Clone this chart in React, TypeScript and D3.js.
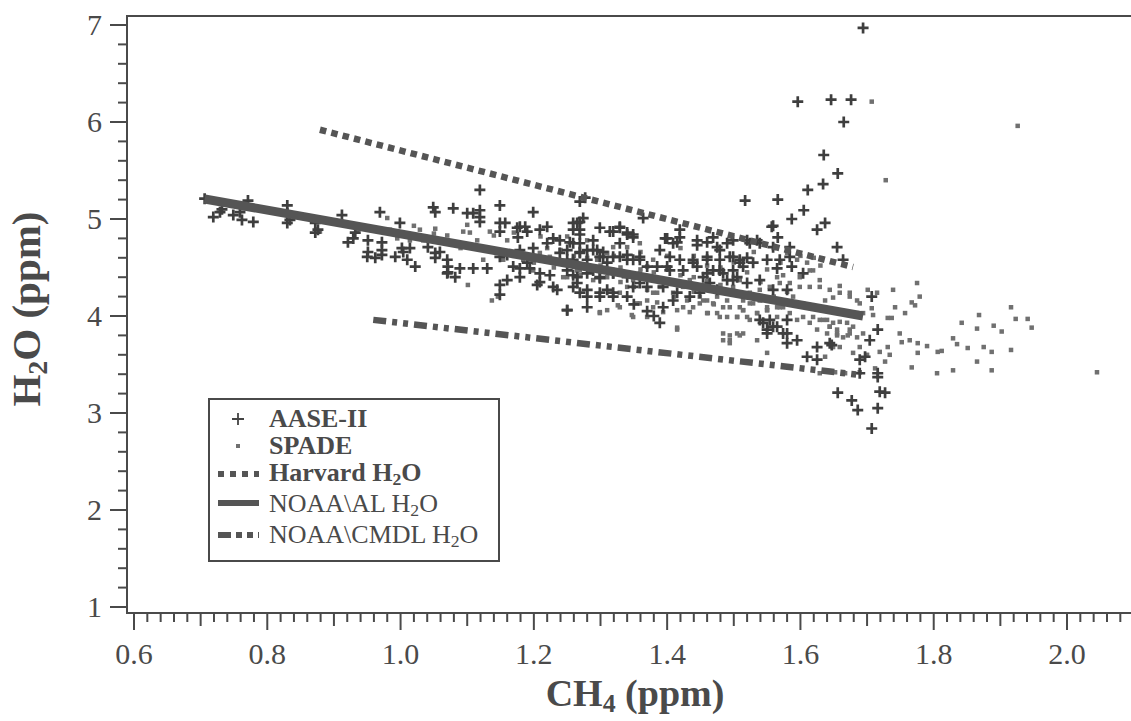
import React from "react";
import * as d3 from "d3";

// major tick values
const xTickValues = [0.6, 0.8, 1.0, 1.2, 1.4, 1.6, 1.8, 2.0];
const yTickValues = [1, 2, 3, 4, 5, 6, 7];

// AASE-II crosses, [CH4, H2O]
const aasePoints: [number, number][] = [
  [0.706, 5.21], [0.719, 5.02], [0.729, 5.07], [0.732, 5.1], [0.749, 5.04], [0.759, 5.07], [0.762, 4.99],
  [0.779, 4.97], [0.771, 5.19], [0.83, 5.14], [0.83, 5.06], [0.83, 4.96], [0.834, 4.99], [0.872, 4.96],
  [0.872, 4.86], [0.876, 4.89], [0.912, 5.04], [0.921, 4.76], [0.929, 4.8], [0.932, 4.86], [0.951, 4.78],
  [0.951, 4.66], [0.95, 4.61], [0.962, 4.6], [0.969, 5.07], [0.972, 4.76], [0.972, 4.68], [0.972, 4.63],
  [0.992, 4.61], [0.999, 4.96], [1.002, 4.7], [1.004, 4.66], [1.01, 4.58], [1.014, 4.7], [1.022, 4.51],
  [1.041, 4.71], [1.049, 5.12], [1.052, 5.07], [1.052, 4.65], [1.052, 4.6], [1.059, 4.66], [1.07, 4.58],
  [1.07, 4.44], [1.071, 4.51],
  [1.119, 5.3], [1.079, 5.11], [1.1, 5.06], [1.109, 5.06], [1.119, 5.09], [1.119, 5.02], [1.119, 4.97],
  [1.149, 5.14], [1.199, 5.07], [1.149, 4.96], [1.157, 4.96], [1.149, 4.87], [1.175, 4.91], [1.179, 4.92],
  [1.187, 4.92], [1.19, 4.87], [1.176, 4.81], [1.209, 4.89], [1.22, 4.92], [1.229, 4.8], [1.239, 4.78],
  [1.254, 4.76], [1.265, 4.96], [1.274, 5.01], [1.259, 4.89], [1.269, 4.84], [1.289, 4.78], [1.299, 4.91],
  [1.319, 4.87], [1.329, 4.91], [1.34, 4.84], [1.349, 4.81], [1.329, 4.75], [1.269, 5.18], [1.277, 5.22],
  [1.364, 5.01], [1.071, 4.45], [1.082, 4.4], [1.089, 4.49], [1.109, 4.49], [1.13, 4.49], [1.149, 4.61],
  [1.16, 4.63], [1.169, 4.51], [1.179, 4.49], [1.179, 4.4], [1.19, 4.55], [1.194, 4.49], [1.205, 4.32],
  [1.209, 4.44], [1.209, 4.35], [1.224, 4.42], [1.229, 4.3], [1.235, 4.27], [1.25, 4.06], [1.149, 4.32],
  [1.16, 4.37], [1.149, 4.22], [1.259, 4.42], [1.265, 4.34], [1.269, 4.24], [1.28, 4.2], [1.28, 4.09],
  [1.299, 4.24], [1.31, 4.27], [1.319, 4.2], [1.239, 4.65], [1.25, 4.58], [1.259, 4.58], [1.269, 4.65],
  [1.28, 4.68], [1.295, 4.68], [1.304, 4.61], [1.31, 4.55], [1.329, 4.61], [1.34, 4.58], [1.349, 4.58],
  [1.359, 4.58], [1.179, 4.68], [1.199, 4.7], [1.22, 4.75], [1.299, 4.39], [1.289, 4.47], [1.319, 4.44],
  [1.34, 4.4], [1.349, 4.3], [1.359, 4.34], [1.37, 4.3], [1.34, 4.2], [1.37, 4.05], [1.35, 4.12], [1.38, 4.0],
  [1.517, 5.19], [1.566, 5.2], [1.611, 5.3], [1.634, 5.36], [1.656, 5.47], [1.605, 5.09], [1.587, 5.0],
  [1.559, 4.93], [1.566, 4.81], [1.625, 4.89], [1.637, 4.96], [1.419, 4.89], [1.397, 4.8], [1.409, 4.75],
  [1.445, 4.78], [1.469, 4.81], [1.475, 4.71], [1.479, 4.68], [1.499, 4.78], [1.524, 4.75], [1.535, 4.78],
  [1.389, 4.68], [1.404, 4.61], [1.419, 4.58], [1.439, 4.58], [1.46, 4.61], [1.479, 4.58], [1.494, 4.61],
  [1.509, 4.58], [1.52, 4.6], [1.55, 4.58], [1.565, 4.49], [1.584, 4.71], [1.587, 4.51], [1.604, 4.44],
  [1.385, 4.51], [1.404, 4.47], [1.424, 4.47], [1.445, 4.51], [1.454, 4.4], [1.469, 4.47], [1.484, 4.44],
  [1.499, 4.47], [1.514, 4.51], [1.464, 4.34], [1.475, 4.27], [1.49, 4.37], [1.505, 4.4], [1.52, 4.34],
  [1.394, 4.3], [1.415, 4.24], [1.434, 4.2], [1.449, 4.24], [1.394, 4.09], [1.389, 3.93], [1.409, 4.16],
  [1.544, 3.93], [1.554, 3.96], [1.55, 3.86], [1.565, 3.89], [1.574, 3.82], [1.58, 3.96], [1.58, 3.72],
  [1.595, 3.75], [1.625, 3.68], [1.644, 3.72], [1.61, 3.58], [1.625, 3.55], [1.707, 4.2], [1.704, 3.75],
  [1.689, 3.55], [1.664, 4.58], [1.655, 4.71],
  [1.694, 6.97], [1.596, 6.21], [1.646, 6.23], [1.676, 6.23], [1.665, 6.0], [1.635, 5.66],
  [1.716, 3.86], [1.647, 3.7], [1.716, 3.41], [1.716, 3.37], [1.719, 3.22], [1.727, 3.21], [1.656, 3.21],
  [1.677, 3.13], [1.686, 3.03], [1.716, 3.05], [1.707, 2.84], [1.689, 3.41], [1.697, 3.58],
  [1.259, 4.96], [1.269, 4.97], [1.269, 4.89], [1.314, 4.87], [1.329, 4.92], [1.34, 4.86], [1.349, 4.84],
  [1.259, 4.75], [1.269, 4.75], [1.25, 4.68], [1.269, 4.66], [1.289, 4.68], [1.304, 4.66], [1.4, 4.8],
  [1.415, 4.76], [1.419, 4.81], [1.445, 4.73], [1.46, 4.76], [1.49, 4.75], [1.52, 4.78], [1.499, 4.61],
  [1.509, 4.55], [1.539, 4.75], [1.559, 4.71], [1.569, 4.58], [1.584, 4.61], [1.557, 4.92], [1.529, 4.55],
  [1.46, 4.58], [1.439, 4.55], [1.4, 4.51], [1.37, 4.51], [1.359, 4.61], [1.34, 4.63], [1.319, 4.61],
  [1.299, 4.61], [1.28, 4.58], [1.259, 4.55], [1.25, 4.47], [1.265, 4.4], [1.28, 4.44], [1.299, 4.4],
  [1.319, 4.44], [1.259, 4.3], [1.28, 4.27], [1.299, 4.2], [1.319, 4.24], [1.25, 4.06], [1.46, 4.44],
  [1.479, 4.47], [1.499, 4.37], [1.539, 4.37], [1.559, 4.27], [1.58, 4.27], [1.539, 3.96], [1.559, 3.89],
  [1.58, 3.82], [1.55, 3.82],
];

// SPADE dots, [CH4, H2O]
const spadePoints: [number, number][] = [
  [1.707, 6.21], [1.926, 5.96], [1.728, 5.4], [2.045, 3.42],
  [1.659, 4.31], [1.674, 4.24], [1.701, 4.27], [1.715, 4.24], [1.739, 4.27], [1.775, 4.34], [1.779, 4.2],
  [1.767, 4.14], [1.772, 4.11], [1.742, 4.09], [1.757, 4.03], [1.709, 4.01], [1.731, 3.98], [1.737, 3.98],
  [1.842, 3.93], [1.868, 4.01], [1.916, 4.09], [1.923, 3.97], [1.941, 3.97], [1.947, 3.88], [1.89, 3.9],
  [1.902, 3.84], [1.865, 3.87], [1.829, 3.77], [1.835, 3.71], [1.851, 3.67], [1.875, 3.68], [1.887, 3.63],
  [1.916, 3.65], [1.865, 3.53], [1.829, 3.44], [1.805, 3.41], [1.887, 3.44], [1.767, 3.47], [1.806, 3.63],
  [1.812, 3.64], [1.79, 3.69], [1.776, 3.72], [1.776, 3.62], [1.764, 3.75], [1.752, 3.73], [1.749, 3.82],
  [1.731, 3.68], [1.734, 3.6], [1.719, 3.63], [1.7, 3.6], [1.689, 3.68], [1.679, 3.62], [1.659, 3.68],
  [1.649, 3.68], [1.64, 3.82], [1.655, 3.8], [1.671, 3.8], [1.694, 3.82], [1.679, 3.89], [1.649, 3.93],
  [1.64, 3.96], [1.659, 3.94], [1.637, 4.16], [1.649, 4.19], [1.689, 4.13], [1.707, 4.08], [1.685, 4.03],
  [1.637, 3.58], [1.629, 3.41], [1.652, 3.42], [1.667, 3.41], [1.689, 3.42], [1.727, 3.53], [1.712, 3.46],
  [1.385, 4.14], [1.394, 4.04], [1.415, 3.86], [1.434, 4.04], [1.449, 4.13], [1.461, 4.03], [1.479, 3.99],
  [1.494, 4.09], [1.505, 3.99], [1.514, 4.06], [1.524, 4.13], [1.535, 4.03], [1.55, 4.09], [1.565, 4.09],
  [1.574, 4.16], [1.589, 4.2], [1.604, 4.13], [1.619, 3.99], [1.629, 3.96], [1.644, 3.89], [1.655, 3.86],
  [1.67, 3.93], [1.674, 3.82], [1.685, 3.78], [1.694, 4.03], [1.505, 3.82], [1.494, 3.72], [1.484, 3.75],
  [1.55, 3.62], [1.524, 4.24], [1.539, 4.27], [1.554, 4.3], [1.569, 4.34], [1.584, 4.34], [1.599, 4.3],
  [1.614, 4.3], [1.629, 4.3], [1.644, 4.27], [1.659, 4.24], [1.674, 4.2], [1.685, 4.16], [1.599, 4.4],
  [1.614, 4.47], [1.629, 4.37], [1.619, 4.47], [1.565, 4.4], [1.574, 4.42], [1.595, 4.58], [1.61, 4.55],
  [1.475, 4.2], [1.49, 4.24], [1.424, 4.09], [1.46, 4.16], [1.514, 4.16], [1.539, 4.16], [1.424, 4.3],
  [1.434, 4.37], [1.499, 4.3], [1.509, 4.37], [1.379, 4.24], [1.385, 4.37],
  [1.101, 4.32], [1.137, 4.16], [1.146, 4.2], [1.1, 4.94], [1.104, 4.86], [1.094, 4.87], [1.134, 4.87],
  [1.115, 4.78], [1.16, 4.78], [1.209, 4.65], [1.224, 4.61], [1.239, 4.55], [1.269, 4.47], [1.289, 4.37],
  [1.299, 4.03], [1.31, 4.06], [1.329, 4.09], [1.347, 4.01], [1.355, 4.13], [1.37, 4.16], [1.329, 4.24],
  [1.34, 4.3], [1.359, 4.44], [1.37, 4.51], [1.379, 4.58], [1.25, 4.4], [1.265, 4.47], [1.28, 4.51],
  [1.295, 4.58], [1.31, 4.65], [1.319, 4.71], [1.34, 4.71], [1.359, 4.75], [1.199, 4.47], [1.184, 4.58],
  [1.154, 4.58], [1.124, 4.58], [1.379, 4.37], [1.385, 4.24],
  [0.98, 5.01], [0.984, 4.89], [1.029, 4.89], [1.052, 4.9], [1.034, 4.78], [1.014, 4.78], [0.995, 4.8],
  [0.935, 4.87], [0.879, 4.87], [0.764, 5.11],
  [1.439, 4.09], [1.454, 4.16], [1.475, 4.03], [1.484, 4.09], [1.505, 3.99], [1.514, 4.06], [1.524, 3.96],
  [1.535, 4.03], [1.55, 4.06], [1.565, 3.99], [1.574, 4.09], [1.584, 4.03], [1.595, 3.96], [1.604, 3.99],
  [1.614, 3.93], [1.625, 3.86], [1.634, 3.96], [1.644, 3.89], [1.655, 3.82], [1.664, 3.78], [1.674, 3.86],
  [1.484, 3.82], [1.494, 3.75], [1.514, 3.82], [1.535, 3.75],
  [1.349, 4.37], [1.37, 4.27], [1.389, 4.3], [1.409, 4.24], [1.43, 4.16], [1.449, 4.2], [1.469, 4.13],
  [1.49, 4.16], [1.509, 4.09], [1.529, 4.13], [1.55, 4.06], [1.569, 4.09], [1.589, 4.13], [1.359, 4.13],
  [1.379, 4.09], [1.415, 4.06], [1.46, 4.03], [1.49, 3.99], [1.52, 3.99], [1.349, 3.99], [1.37, 3.99],
  [1.415, 3.88], [1.494, 3.8], [1.509, 3.8], [1.299, 4.04], [1.326, 4.11], [1.244, 4.4], [1.289, 4.51],
  [1.22, 4.7], [1.24, 4.68], [1.26, 4.62], [1.28, 4.6], [1.3, 4.52], [1.33, 4.5], [1.36, 4.48], [1.38, 4.45],
  [1.4, 4.5], [1.42, 4.42], [1.44, 4.4], [1.46, 4.36], [1.48, 4.32], [1.5, 4.25], [1.52, 4.22], [1.54, 4.35],
  [1.56, 4.2], [1.58, 4.25], [1.46, 4.52], [1.48, 4.5], [1.5, 4.55], [1.52, 4.45], [1.55, 4.48], [1.57, 4.55],
  [1.6, 4.62], [1.62, 4.6], [1.63, 4.52], [1.58, 4.65], [1.56, 4.7], [1.53, 4.66], [1.44, 4.62], [1.42, 4.7],
  [1.4, 4.62], [1.36, 4.66], [1.32, 4.62], [1.28, 4.78], [1.25, 4.82], [1.21, 4.82], [1.17, 4.86], [1.14, 4.83],
  [1.07, 4.83], [1.05, 4.85], [1.02, 4.93], [1.06, 4.76], [1.09, 4.7], [1.13, 4.7], [1.17, 4.62], [1.2, 4.55],
  [1.23, 4.5], [1.27, 4.42], [1.31, 4.4], [1.33, 4.35], [1.35, 4.3], [1.41, 4.2], [1.44, 4.25], [1.47, 4.12],
];

// regression lines, [CH4, H2O] end points
const harvardLine: [number, number][] = [[0.879, 5.92], [1.679, 4.505]];
const noaaAlLine: [number, number][] = [[0.706, 5.206], [1.694, 4.0]];
const noaaCmdlLine: [number, number][] = [[0.959, 3.96], [1.692, 3.39]];

const legendNames = ["AASE-II", "SPADE", "Harvard", "NOAA\\AL", "NOAA\\CMDL"];

const ink = "#4a4a4a";
const markInk = "#555";
const font = "Liberation Serif, Times New Roman, serif";

const Sub = ({ base, sub, rest, size }: { base: string; sub: string; rest: string; size: number }) => (
  <>
    {base}
    <tspan fontSize={size * 0.68} dy={size * 0.17}>{sub}</tspan>
    <tspan dy={-size * 0.17}>{rest}</tspan>
  </>
);

const App = () => {
  const width = 1131;
  const height = 721;
  const left = 127;
  const top = 16;
  const bottom = 613;

  const x = d3.scaleLinear().domain([0.6, 2.0]).range([134, 1067]);
  const y = d3.scaleLinear().domain([1, 7]).range([607, 25]);

  const line = d3.line<[number, number]>()
    .x((d) => x(d[0]))
    .y((d) => y(d[1]));

  // ticks every 0.02 along x, every 0.2 along y
  const xMinor = d3.range(0, 75).map((i) => +(0.6 + i * 0.02).toFixed(2));
  const yMinor = d3.range(0, 31).map((i) => +(1 + i * 0.2).toFixed(1));

  const legendRows = [427, 454, 481, 512, 543];

  return (
    <svg width={width} height={height} style={{ position: "absolute", left: 0, top: 0, background: "#fff" }}>
      {/* frame */}
      <path d={`M${width + 5},${top}H${left}V${bottom}H${width + 5}`} fill="none" stroke={ink} strokeWidth={2} />

      {/* x ticks */}
      {xMinor.map((v, i) => {
        const len = i % 10 === 0 ? 17 : i % 5 === 0 ? 13 : 9;
        return <line key={"xt" + i} x1={x(v)} x2={x(v)} y1={bottom} y2={bottom + len} stroke={ink} strokeWidth={2} />;
      })}
      {xTickValues.map((v) => (
        <text key={"xl" + v} x={x(v)} y={664} textAnchor="middle" fontFamily={font} fontSize={30} fill={ink}>
          {d3.format(".1f")(v)}
        </text>
      ))}

      {/* y ticks */}
      {yMinor.map((v, i) => {
        const len = i % 5 === 0 ? 17 : 9;
        return <line key={"yt" + i} x1={left - len} x2={left} y1={y(v)} y2={y(v)} stroke={ink} strokeWidth={2} />;
      })}
      {yTickValues.map((v) => (
        <text key={"yl" + v} x={102} y={y(v) + 10} textAnchor="end" fontFamily={font} fontSize={30} fill={ink}>
          {v}
        </text>
      ))}

      {/* axis titles */}
      <text x={635} y={706} textAnchor="middle" fontFamily={font} fontSize={38} fontWeight="bold" fill={ink}>
        <Sub base="CH" sub="4" rest=" (ppm)" size={38} />
      </text>
      <text transform="translate(40,309) rotate(-90)" textAnchor="middle" fontFamily={font} fontSize={41} fontWeight="bold" fill={ink}>
        <Sub base="H" sub="2" rest="O (ppm)" size={41} />
      </text>

      {/* SPADE */}
      {spadePoints.map((d, i) => (
        <rect key={"s" + i} x={x(d[0]) - 2.25} y={y(d[1]) - 2.25} width={4.5} height={4.5} fill="#707070" />
      ))}

      {/* AASE-II */}
      {aasePoints.map((d, i) => (
        <path key={"a" + i} d={`M${x(d[0]) - 5.5},${y(d[1])}h11M${x(d[0])},${y(d[1]) - 5.5}v11`} stroke="#3e3e3e" strokeWidth={2.7} />
      ))}

      {/* fitted lines */}
      <path d={line(harvardLine) ?? ""} fill="none" stroke={markInk} strokeWidth={6.5} strokeDasharray="6.5 5.2" />
      <path d={line(noaaAlLine) ?? ""} fill="none" stroke={markInk} strokeWidth={9} />
      <path d={line(noaaCmdlLine) ?? ""} fill="none" stroke={markInk} strokeWidth={6.5} strokeDasharray="13 6 5 6 5 6" />

      {/* legend */}
      <rect x={209} y={399} width={290} height={162} fill="#fff" stroke={ink} strokeWidth={2} />
      <path d={`M232,${legendRows[0] - 8}h12M238,${legendRows[0] - 14}v12`} stroke="#444" strokeWidth={1.8} />
      <rect x={236} y={legendRows[1] - 10} width={4} height={4} fill="#707070" />
      <line x1={218} x2={259} y1={legendRows[2] - 7} y2={legendRows[2] - 7} stroke={markInk} strokeWidth={6} strokeDasharray="6 6" />
      <line x1={218} x2={259} y1={legendRows[3] - 9} y2={legendRows[3] - 9} stroke={markInk} strokeWidth={6} />
      <line x1={218} x2={259} y1={legendRows[4] - 8} y2={legendRows[4] - 8} stroke={markInk} strokeWidth={6} strokeDasharray="13 5 6 5 6 5" />
      {legendNames.map((name, i) => {
        const big = i >= 3;
        const size = 26;
        return (
          <text key={name} x={269} y={legendRows[i]} fontFamily={font} fontSize={size} fontWeight={big ? "normal" : "bold"} fill={ink}>
            {i >= 2 ? <Sub base={name + " H"} sub="2" rest="O" size={size} /> : name}
          </text>
        );
      })}
    </svg>
  );
};

export default App;
